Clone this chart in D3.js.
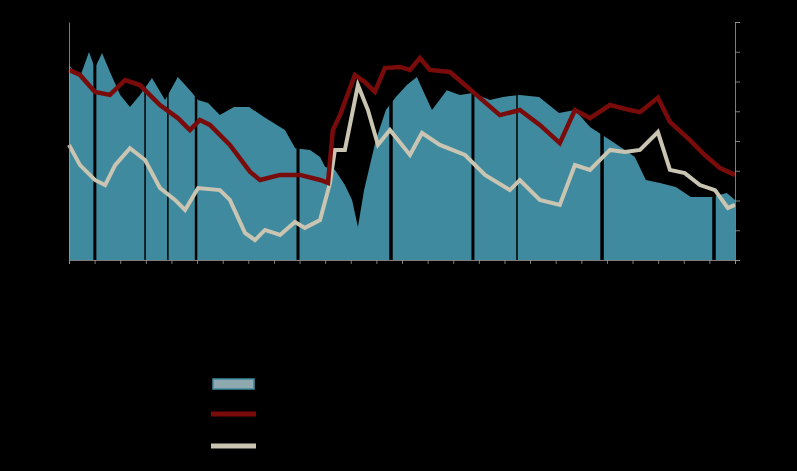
<!DOCTYPE html><html><head><meta charset="utf-8">
<script src="https://cdn.jsdelivr.net/npm/d3@7"></script>
<style>html,body{margin:0;background:#000}</style></head><body><svg id="c" width="797" height="471"></svg>
<script>
const areaData=[[1990.0,6.55],[1990.43,6.15],[1990.78,6.99],[1991.01,6.45],[1991.29,6.96],[1991.6,6.32],[1992.0,5.55],[1992.38,5.14],[1992.77,5.55],[1993.24,6.12],[1993.75,5.38],[1994.25,6.15],[1994.72,5.71],[1995.04,5.38],[1995.43,5.28],[1995.89,4.87],[1996.44,5.14],[1997.03,5.14],[1997.61,4.81],[1998.43,4.37],[1998.83,3.76],[1999.41,3.70],[1999.8,3.46],[2000.0,3.13],[2000.38,3.03],[2000.77,2.52],[2001.05,2.02],[2001.28,1.11],[2001.52,2.35],[2001.98,4.03],[2002.37,5.04],[2002.76,5.48],[2003.19,5.88],[2003.58,6.15],[2003.9,5.55],[2004.17,5.04],[2004.75,5.71],[2005.26,5.55],[2005.77,5.61],[2006.43,5.38],[2006.94,5.48],[2007.6,5.55],[2008.35,5.48],[2009.13,4.94],[2009.75,5.04],[2010.34,4.47],[2011.12,4.03],[2011.7,3.70],[2012.09,3.46],[2012.52,2.69],[2013.07,2.59],[2013.69,2.45],[2014.28,2.12],[2015.1,2.12],[2015.68,2.25],[2016,2.02]];
const redData=[[1990.0,6.39],[1990.43,6.22],[1991.01,5.65],[1991.6,5.55],[1992.19,6.05],[1992.77,5.88],[1993.55,5.21],[1994.25,4.77],[1994.72,4.37],[1995.11,4.71],[1995.5,4.54],[1996.28,3.87],[1997.07,2.96],[1997.46,2.69],[1998.24,2.86],[1999.02,2.86],[1999.8,2.69],[2000.11,2.59],[2000.3,4.37],[2000.58,4.87],[2001.16,6.22],[2001.55,5.98],[2001.94,5.65],[2002.33,6.45],[2002.92,6.49],[2003.31,6.39],[2003.7,6.79],[2004.09,6.39],[2004.87,6.32],[2005.46,5.88],[2006.04,5.45],[2006.82,4.87],[2007.6,5.04],[2008.38,4.54],[2009.16,3.93],[2009.75,5.04],[2010.34,4.77],[2011.12,5.21],[2011.9,5.04],[2012.29,4.97],[2012.99,5.45],[2013.46,4.64],[2014.24,4.03],[2014.82,3.53],[2015.41,3.09],[2016,2.86]];
const beigeData=[[1990,3.87],[1990.43,3.19],[1991.01,2.69],[1991.41,2.52],[1991.8,3.19],[1992.38,3.76],[1992.97,3.36],[1993.55,2.42],[1994.14,2.02],[1994.53,1.68],[1995.04,2.42],[1995.89,2.35],[1996.28,2.02],[1996.87,0.91],[1997.26,0.67],[1997.65,1.01],[1998.24,0.84],[1998.82,1.28],[1999.21,1.08],[1999.8,1.34],[2000.19,2.59],[2000.38,3.70],[2000.77,3.70],[2001.28,5.88],[2001.67,5.04],[2002.06,3.87],[2002.53,4.37],[2003.31,3.53],[2003.78,4.27],[2004.48,3.87],[2005.46,3.53],[2006.24,2.86],[2007.21,2.35],[2007.6,2.69],[2008.38,2.02],[2009.16,1.85],[2009.75,3.19],[2010.34,3.03],[2011.12,3.70],[2011.7,3.63],[2012.29,3.70],[2012.99,4.30],[2013.46,3.03],[2014.04,2.92],[2014.63,2.52],[2015.22,2.35],[2015.72,1.75],[2016,1.85]];
const separators=[[1991.01,3],[1992.97,1.5],[1993.86,1.5],[1994.96,2.5],[1998.94,3],[2002.57,3.5],[2005.77,3],[2007.49,1.5],[2010.81,3.5],[2015.18,3.5]];
const xTicks=d3.range(1990,2017);
const yTicks=d3.range(0,9);

const svg=d3.select("#c");
const L=69,R=735,T=22,B=260;
const x=d3.scaleLinear().domain([1990,2016]).range([L,R]);
const y=d3.scaleLinear().domain([0,8]).range([B,T]);
svg.append("path").datum(areaData).attr("fill","#3f8a9e")
 .attr("d",d3.area().x(d=>x(d[0])).y0(B).y1(d=>y(d[1])));
separators.forEach(s=>svg.append("line").attr("x1",x(s[0])).attr("x2",x(s[0])).attr("y1",T).attr("y2",B).attr("stroke","#000").attr("stroke-width",s[1]));
const line=d3.line().x(d=>x(d[0])).y(d=>y(d[1]));
svg.append("path").datum(beigeData).attr("fill","none").attr("stroke","#c9c5b2").attr("stroke-width",4).attr("d",line);
svg.append("path").datum(redData).attr("fill","none").attr("stroke","#7a0b0b").attr("stroke-width",4.5).attr("d",line);
const ax=svg.append("g").attr("transform",`translate(0,${B})`).call(d3.axisBottom(x).tickValues(xTicks).tickSize(4).tickFormat(""));
const ar=svg.append("g").attr("transform",`translate(${R},0)`).call(d3.axisRight(y).tickValues(yTicks).tickSize(5).tickFormat(""));
const al=svg.append("g").attr("transform",`translate(${L},0)`).call(d3.axisLeft(y).tickValues([]).tickSize(0).tickFormat(""));
svg.selectAll(".domain,.tick line").attr("stroke","#9a9a9a").attr("stroke-width",0.8);
const lg=svg.append("g");
lg.append("rect").attr("x",213).attr("y",379).attr("width",41).attr("height",10).attr("fill","#8fa9b0").attr("stroke","#3f8a9e").attr("stroke-width",1.5);
lg.append("line").attr("x1",211).attr("x2",256).attr("y1",414).attr("y2",414).attr("stroke","#7a0b0b").attr("stroke-width",5);
lg.append("line").attr("x1",211).attr("x2",256).attr("y1",446).attr("y2",446).attr("stroke","#c9c5b2").attr("stroke-width",5);
</script></body></html>
